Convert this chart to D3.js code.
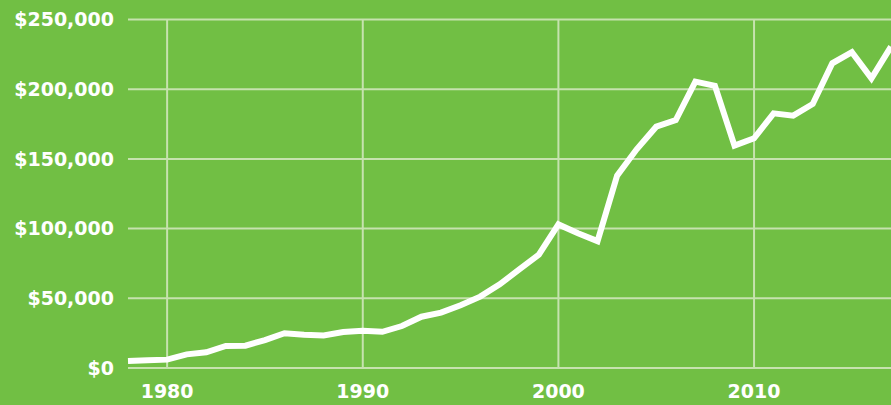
<!DOCTYPE html>
<html>
<head>
<meta charset="utf-8">
<script src="https://cdn.jsdelivr.net/npm/d3@7"></script>
<style>
  html, body { margin: 0; padding: 0; background: #71bf44; }
  svg { display: block; }
  .tick-label { font-family: "DejaVu Sans", sans-serif; font-weight: 700; fill: #fff; }
</style>
</head>
<body>
<div class="chart"></div>
<script>
// yearly values
const years = d3.range(1978, 2018)
const values = [
    5000, 5500, 6000, 9800, 11300, 15800, 16000, 20000, 24900, 23900,
    23400, 25800, 26800, 26000, 30100, 36800, 39700, 45000, 51200, 60000,
    70800, 81300, 103000, 96600, 91000, 138000, 156900, 173100, 177900, 205400,
    202500, 159500, 164800, 182700, 181000, 189400, 218600, 226500, 207800, 230500
]
const yTicks = [0, 50000, 100000, 150000, 200000, 250000]
const xTicks = [1980, 1990, 2000, 2010]

const width = 891
const height = 405
const plotLeft = 128, plotRight = 891, plotTop = 19.5, plotBottom = 368

const svg = d3.select('.chart')
    .append('svg')
    .attr('width', width)
    .attr('height', height)

svg.append('rect').attr('width', width).attr('height', height).attr('fill', '#71bf44')

const x = d3.scaleLinear().domain([1978, 2017]).range([plotLeft, plotRight])
const y = d3.scaleLinear().domain([0, 250000]).range([plotBottom, plotTop])

// grid
svg.append('g')
    .selectAll('line')
    .data(yTicks)
    .enter()
    .append('line')
    .attr('x1', plotLeft)
    .attr('x2', plotRight)
    .attr('y1', d => y(d))
    .attr('y2', d => y(d))
    .attr('stroke', '#c6e2ae')
    .attr('stroke-width', 2)

svg.append('g')
    .selectAll('line')
    .data(xTicks)
    .enter()
    .append('line')
    .attr('x1', d => x(d))
    .attr('x2', d => x(d))
    .attr('y1', plotTop)
    .attr('y2', plotBottom)
    .attr('stroke', '#c6e2ae')
    .attr('stroke-width', 2)

// labels
const fmt = d3.format(',')
svg.append('g')
    .selectAll('text')
    .data(yTicks)
    .enter()
    .append('text')
    .attr('class', 'tick-label')
    .attr('x', 114)
    .attr('y', d => y(d))
    .attr('dy', '0.36em')
    .attr('text-anchor', 'end')
    .style('font-size', '19px')
    .text(d => '$' + fmt(d))

svg.append('g')
    .selectAll('text')
    .data(xTicks)
    .enter()
    .append('text')
    .attr('class', 'tick-label')
    .attr('x', d => x(d))
    .attr('y', 398)
    .attr('text-anchor', 'middle')
    .style('font-size', '19px')
    .text(d => d)

// the line
const line = d3.line()
    .x((d, i) => x(years[i]))
    .y(d => y(d))

svg.append('path')
    .datum(values)
    .attr('d', line)
    .attr('fill', 'none')
    .attr('stroke', '#fff')
    .attr('stroke-width', 6)
    .attr('stroke-linejoin', 'miter')
</script>
</body>
</html>
